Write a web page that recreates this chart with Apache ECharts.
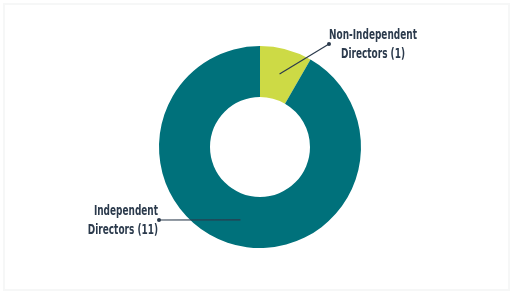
<!DOCTYPE html>
<html>
<head>
<meta charset="utf-8">
<script src="https://cdn.jsdelivr.net/npm/echarts@6/dist/echarts.min.js"></script>
<style>
  html, body { margin: 0; padding: 0; background: #ffffff; }
  #main { width: 513px; height: 294px; }
</style>
</head>
<body>
<div id="main"></div>
<script>
var categories = ['Non-Independent Directors', 'Independent Directors'];
var values = [1, 11];
var labelLines = [['Non-Independent', 'Directors (1)'], ['Independent', 'Directors (11)']];
var colors = ['#cdda45', '#00717b'];

var chartDom = document.getElementById('main');
var myChart = echarts.init(chartDom);

var cx = 260, cy = 147, rIn = 50, rOut = 101;
var total = values[0] + values[1];
var ink = '#2b3a4c';

// point on the middle of the ring at the slice's mid angle
function midPoint(idx) {
    var start = 0;
    for (var i = 0; i < idx; i++) start += values[i];
    var a = (start + values[idx] / 2) / total * Math.PI * 2;
    var r = (rIn + rOut) / 2;
    return [cx + r * Math.sin(a), cy - r * Math.cos(a)];
}

// label line end (dot) and label anchor
var lineEnds = [[329, 44], [159, 220]];
var labelPos = [[373, 45, 'center'], [158, 221, 'right']];

var graphics = [{
    type: 'rect',
    shape: { x: 4, y: 4, width: 505, height: 286 },
    style: { fill: 'none', stroke: '#f6f7f7', lineWidth: 2 },
    silent: true
}];

values.forEach(function (v, i) {
    graphics.push({
        type: 'polyline',
        shape: { points: [midPoint(i), lineEnds[i]] },
        style: { stroke: ink, lineWidth: 1.2, fill: 'none' },
        z: 10
    });
    graphics.push({
        type: 'circle',
        shape: { cx: lineEnds[i][0], cy: lineEnds[i][1], r: 2 },
        style: { fill: ink },
        z: 10
    });
    graphics.push({
        type: 'text',
        x: labelPos[i][0],
        y: labelPos[i][1],
        scaleX: 0.71,
        style: {
            text: labelLines[i].join('\n'),
            fill: ink,
            font: 'bold 14px "DejaVu Sans Condensed", "DejaVu Sans", sans-serif',
            lineHeight: 19,
            textAlign: labelPos[i][2],
            textVerticalAlign: 'middle'
        },
        z: 10
    });
});

var data = categories.map(function (c, i) {
    return { name: c, value: values[i], itemStyle: { color: colors[i] } };
});

var option = {
    backgroundColor: '#ffffff',
    animation: false,
    graphic: graphics,
    series: [{
        type: 'pie',
        center: [cx, cy],
        radius: [rIn, rOut],
        startAngle: 90,
        clockwise: true,
        data: data,
        label: { show: false },
        labelLine: { show: false }
    }]
};

myChart.setOption(option);
</script>
</body>
</html>
